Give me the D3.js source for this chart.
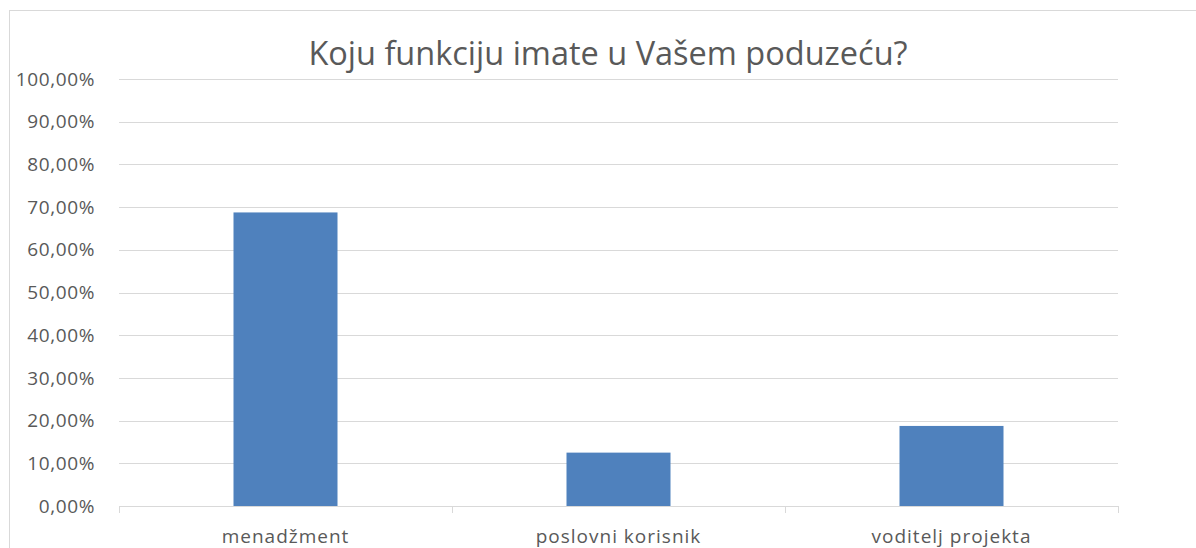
<!DOCTYPE html>
<meta charset="utf-8">
<head>
<title>Koju funkciju imate u Vašem poduzeću?</title>
</head>
<style>
body { margin: 0; background: #fff; }
text { font-family: "Open Sans", sans-serif; fill: #595959; }
</style>
<body>
<svg width="1196" height="548"></svg>
<script src="https://d3js.org/d3.v7.min.js"></script>
<script>
// chart data
var categories = ['menadžment', 'poslovni korisnik', 'voditelj projekta'];
var values = [0.6875, 0.125, 0.1875];
var yTicks = [0, 0.1, 0.2, 0.3, 0.4, 0.5, 0.6, 0.7, 0.8, 0.9, 1.0];
var title = 'Koju funkciju imate u Vašem poduzeću?';

var svg = d3.select('svg');
// plot area (note: "top" is taken by window.top, so prefixed names)
var pLeft = 119, pRight = 1118, pTop = 79, pBottom = 506;

// outer chart border (runs off the right and bottom edge)
svg.append('rect')
  .attr('x', 9.5).attr('y', 10.5)
  .attr('width', 1200).attr('height', 600)
  .attr('fill', 'none').attr('stroke', '#d9d9d9');

var x = d3.scaleBand().domain(categories).range([pLeft, pRight]).paddingInner(0).paddingOuter(0);
var y = d3.scaleLinear().domain([0, 1]).range([pBottom, pTop]);
var fmt = function(d) { return d3.format('.2f')(d * 100).replace('.', ',') + '%'; };

// gridlines
svg.append('g').selectAll('line')
  .data(yTicks.slice(1))
  .enter().append('line')
  .attr('x1', pLeft).attr('x2', pRight)
  .attr('y1', d => Math.round(y(d)) + 0.5)
  .attr('y2', d => Math.round(y(d)) + 0.5)
  .attr('stroke', '#d9d9d9');

// y labels
svg.append('g').selectAll('text')
  .data(yTicks)
  .enter().append('text')
  .attr('x', 95).attr('y', d => y(d))
  .attr('dy', '0.35em')
  .attr('text-anchor', 'end')
  .style('font-size', '19px')
  .style('letter-spacing', '0.6px')
  .text(fmt);

// bars
var bw = 104;
svg.append('g').selectAll('rect')
  .data(values)
  .enter().append('rect')
  .attr('x', (d, i) => x(categories[i]) + x.bandwidth() / 2 - bw / 2)
  .attr('y', d => y(d))
  .attr('width', bw)
  .attr('height', d => y(0) - y(d))
  .attr('fill', '#4f81bd');

// x axis line + ticks
var xa = svg.append('g').attr('stroke', '#d9d9d9');
xa.append('line')
  .attr('x1', pLeft).attr('x2', pRight)
  .attr('y1', pBottom + 0.5).attr('y2', pBottom + 0.5);
var edges = categories.map(c => x(c)).concat([pRight]);
xa.selectAll('.tk').data(edges).enter().append('line')
  .attr('class', 'tk')
  .attr('x1', d => Math.round(d) + 0.5).attr('x2', d => Math.round(d) + 0.5)
  .attr('y1', pBottom).attr('y2', pBottom + 7);

// x labels
svg.append('g').selectAll('text')
  .data(categories)
  .enter().append('text')
  .attr('x', d => x(d) + x.bandwidth() / 2)
  .attr('y', 543)
  .attr('text-anchor', 'middle')
  .style('font-size', '19px')
  .style('letter-spacing', '1px')
  .text(d => d);

// title
svg.append('text')
  .attr('x', 608).attr('y', 65)
  .attr('text-anchor', 'middle')
  .style('font-size', '32.5px')
  .text(title);
</script>
</body>
